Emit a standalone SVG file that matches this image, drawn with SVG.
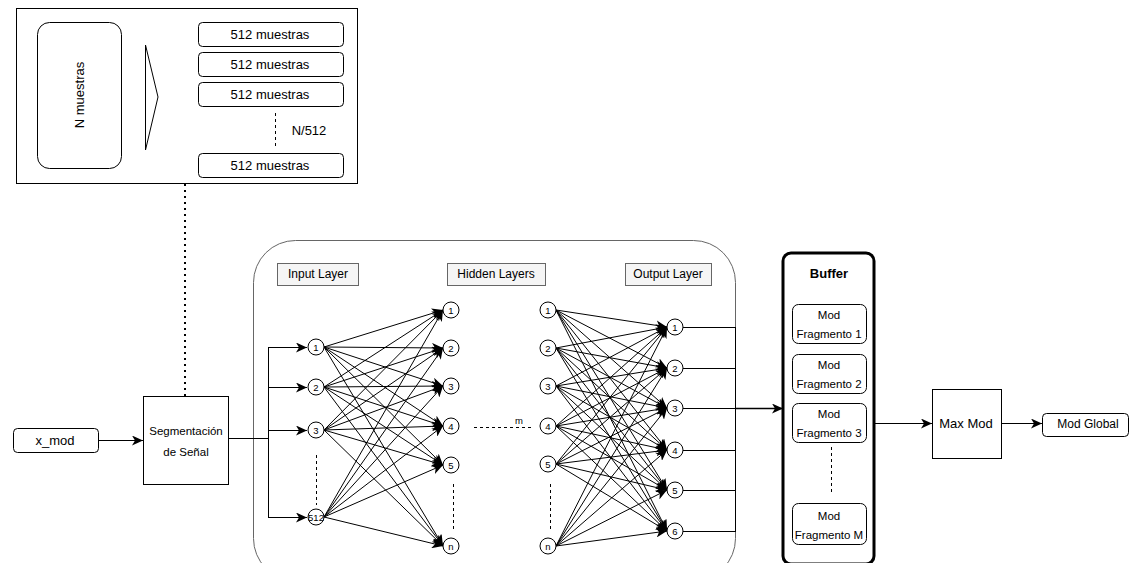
<svg xmlns="http://www.w3.org/2000/svg" width="1137" height="563" viewBox="0 0 1137 563">
<style>
text{font-family:"Liberation Sans",Arial,sans-serif;fill:#000;text-anchor:middle;dominant-baseline:central}
.b{fill:#fff;stroke:#000;stroke-width:1}
.n{fill:#fff;stroke:#000;stroke-width:1}
.nt{font-size:9.5px}
.e{stroke:#000;stroke-width:1;fill:none;marker-end:url(#a)}
.l{stroke:#000;stroke-width:1;fill:none}
.d{stroke:#000;stroke-width:1;fill:none;stroke-dasharray:3 3}
.lab{fill:#f5f5f5;stroke:#666;stroke-width:1}
.lt{font-size:12px}
.ft{font-size:11.5px}
</style>
<defs>
<marker id="a" markerUnits="userSpaceOnUse" markerWidth="12" markerHeight="10" refX="11" refY="5" orient="auto">
<path d="M0,0 L11,5 L0,10 L3,5 z" fill="#000"/>
</marker>
</defs>

<g id="segmentation-detail">
<rect x="16.5" y="8.5" width="341" height="175" class="b"/>
<rect x="37.5" y="22.5" width="84" height="146" rx="12" class="b"/>
<text transform="translate(79,95) rotate(-90)" font-size="13">N muestras</text>
<polygon points="145.5,45 158,97 145.5,150" class="b"/>
<rect x="198.5" y="22.5" width="145" height="24" rx="4" class="b"/>
<text x="270" y="34" font-size="13">512 muestras</text>
<rect x="198.5" y="52.5" width="145" height="24" rx="4" class="b"/>
<text x="270" y="64" font-size="13">512 muestras</text>
<rect x="198.5" y="82.5" width="145" height="24" rx="4" class="b"/>
<text x="270" y="94" font-size="13">512 muestras</text>
<rect x="198.5" y="153.5" width="145" height="24" rx="4" class="b"/>
<text x="270" y="165" font-size="13">512 muestras</text>
<line x1="275.5" y1="113" x2="275.5" y2="146" class="d"/>
<text x="309" y="130" font-size="13">N/512</text>
</g>

<g id="x_mod">
<rect x="13.5" y="428.5" width="85" height="24" rx="4" class="b"/>
<text x="55" y="440" font-size="13">x_mod</text>
</g>

<g id="segmentacion">
<rect x="143.5" y="396.5" width="85" height="88" class="b"/>
<text x="186" y="431" class="ft">Segmentación</text>
<text x="186" y="452" class="ft">de Señal</text>
</g>

<g id="nn-container">
<rect x="253.5" y="240.5" width="482" height="340" rx="42" fill="#fff" stroke="#666" stroke-width="1"/>
<rect x="277.5" y="263.5" width="81" height="22" class="lab"/>
<text x="318" y="274" class="lt">Input Layer</text>
<rect x="447.5" y="263.5" width="98" height="22" class="lab"/>
<text x="496" y="274" class="lt">Hidden Layers</text>
<rect x="625.5" y="263.5" width="86" height="22" class="lab"/>
<text x="668" y="274" class="lt">Output Layer</text>
</g>

<g id="connectors">
<line x1="185" y1="184" x2="185" y2="396" stroke="#000" stroke-width="2" stroke-dasharray="2 4"/>
<line x1="98" y1="440.5" x2="143" y2="440.5" class="e"/>
<line x1="228" y1="438.5" x2="268" y2="438.5" class="l"/>
<line x1="268.5" y1="347" x2="268.5" y2="517" class="l"/>
<line x1="268" y1="347.5" x2="307" y2="347.5" class="e"/>
<line x1="268" y1="387.5" x2="307" y2="387.5" class="e"/>
<line x1="268" y1="430.5" x2="307" y2="430.5" class="e"/>
<line x1="268" y1="517.5" x2="307" y2="517.5" class="e"/>

<!-- input -> hidden -->
<line x1="324" y1="347" x2="443" y2="310" class="e"/>
<line x1="324" y1="347" x2="443" y2="348" class="e"/>
<line x1="324" y1="347" x2="443" y2="386" class="e"/>
<line x1="324" y1="347" x2="443" y2="426" class="e"/>
<line x1="324" y1="347" x2="443" y2="465" class="e"/>
<line x1="324" y1="347" x2="443" y2="546" class="e"/>
<line x1="324" y1="387" x2="443" y2="310" class="e"/>
<line x1="324" y1="387" x2="443" y2="348" class="e"/>
<line x1="324" y1="387" x2="443" y2="386" class="e"/>
<line x1="324" y1="387" x2="443" y2="426" class="e"/>
<line x1="324" y1="387" x2="443" y2="465" class="e"/>
<line x1="324" y1="387" x2="443" y2="546" class="e"/>
<line x1="324" y1="430" x2="443" y2="310" class="e"/>
<line x1="324" y1="430" x2="443" y2="348" class="e"/>
<line x1="324" y1="430" x2="443" y2="386" class="e"/>
<line x1="324" y1="430" x2="443" y2="426" class="e"/>
<line x1="324" y1="430" x2="443" y2="465" class="e"/>
<line x1="324" y1="430" x2="443" y2="546" class="e"/>
<line x1="324" y1="517" x2="443" y2="310" class="e"/>
<line x1="324" y1="517" x2="443" y2="348" class="e"/>
<line x1="324" y1="517" x2="443" y2="386" class="e"/>
<line x1="324" y1="517" x2="443" y2="426" class="e"/>
<line x1="324" y1="517" x2="443" y2="465" class="e"/>
<line x1="324" y1="517" x2="443" y2="546" class="e"/>

<!-- hidden -> output -->
<line x1="556" y1="310" x2="667" y2="327" class="e"/>
<line x1="556" y1="310" x2="667" y2="368" class="e"/>
<line x1="556" y1="310" x2="667" y2="408" class="e"/>
<line x1="556" y1="310" x2="667" y2="450" class="e"/>
<line x1="556" y1="310" x2="667" y2="490" class="e"/>
<line x1="556" y1="310" x2="667" y2="531" class="e"/>
<line x1="556" y1="348" x2="667" y2="327" class="e"/>
<line x1="556" y1="348" x2="667" y2="368" class="e"/>
<line x1="556" y1="348" x2="667" y2="408" class="e"/>
<line x1="556" y1="348" x2="667" y2="450" class="e"/>
<line x1="556" y1="348" x2="667" y2="490" class="e"/>
<line x1="556" y1="348" x2="667" y2="531" class="e"/>
<line x1="556" y1="386" x2="667" y2="327" class="e"/>
<line x1="556" y1="386" x2="667" y2="368" class="e"/>
<line x1="556" y1="386" x2="667" y2="408" class="e"/>
<line x1="556" y1="386" x2="667" y2="450" class="e"/>
<line x1="556" y1="386" x2="667" y2="490" class="e"/>
<line x1="556" y1="386" x2="667" y2="531" class="e"/>
<line x1="556" y1="426" x2="667" y2="327" class="e"/>
<line x1="556" y1="426" x2="667" y2="368" class="e"/>
<line x1="556" y1="426" x2="667" y2="408" class="e"/>
<line x1="556" y1="426" x2="667" y2="450" class="e"/>
<line x1="556" y1="426" x2="667" y2="490" class="e"/>
<line x1="556" y1="426" x2="667" y2="531" class="e"/>
<line x1="556" y1="464" x2="667" y2="327" class="e"/>
<line x1="556" y1="464" x2="667" y2="368" class="e"/>
<line x1="556" y1="464" x2="667" y2="408" class="e"/>
<line x1="556" y1="464" x2="667" y2="450" class="e"/>
<line x1="556" y1="464" x2="667" y2="490" class="e"/>
<line x1="556" y1="464" x2="667" y2="531" class="e"/>
<line x1="556" y1="546" x2="667" y2="327" class="e"/>
<line x1="556" y1="546" x2="667" y2="368" class="e"/>
<line x1="556" y1="546" x2="667" y2="408" class="e"/>
<line x1="556" y1="546" x2="667" y2="450" class="e"/>
<line x1="556" y1="546" x2="667" y2="490" class="e"/>
<line x1="556" y1="546" x2="667" y2="531" class="e"/>

<!-- output -> buffer -->
<line x1="683" y1="327.5" x2="735" y2="327.5" class="l"/>
<line x1="683" y1="368.5" x2="735" y2="368.5" class="l"/>
<line x1="683" y1="408.5" x2="735" y2="408.5" class="l"/>
<line x1="683" y1="450.5" x2="735" y2="450.5" class="l"/>
<line x1="683" y1="490.5" x2="735" y2="490.5" class="l"/>
<line x1="683" y1="531.5" x2="735" y2="531.5" class="l"/>
<line x1="735.5" y1="327" x2="735.5" y2="532" class="l"/>
<line x1="735" y1="408.5" x2="783" y2="408.5" stroke="#000" stroke-width="1.5" marker-end="url(#a)"/>

<line x1="874" y1="423.5" x2="932" y2="423.5" class="e"/>
<line x1="1001" y1="423.5" x2="1042" y2="423.5" class="e"/>

<!-- dashed continuation marks -->
<line x1="316.5" y1="455" x2="316.5" y2="505" class="d"/>
<line x1="453.5" y1="484" x2="453.5" y2="532" class="d"/>
<line x1="550.5" y1="484" x2="550.5" y2="532" class="d"/>
<line x1="474" y1="427.5" x2="532" y2="427.5" class="d"/>
</g>
<text x="519" y="420" font-size="9.5">m</text>

<g id="input-layer">
<circle cx="316" cy="347" r="8" class="n"/><text x="316" y="347" class="nt">1</text>
<circle cx="316" cy="387" r="8" class="n"/><text x="316" y="387" class="nt">2</text>
<circle cx="316" cy="430" r="8" class="n"/><text x="316" y="430" class="nt">3</text>
<circle cx="316" cy="517" r="8" class="n"/><text x="316" y="517" class="nt">512</text>
</g>

<g id="hidden-layer-1">
<circle cx="451" cy="310" r="8" class="n"/><text x="451" y="310" class="nt">1</text>
<circle cx="451" cy="348" r="8" class="n"/><text x="451" y="348" class="nt">2</text>
<circle cx="451" cy="386" r="8" class="n"/><text x="451" y="386" class="nt">3</text>
<circle cx="451" cy="426" r="8" class="n"/><text x="451" y="426" class="nt">4</text>
<circle cx="451" cy="465" r="8" class="n"/><text x="451" y="465" class="nt">5</text>
<circle cx="451" cy="546" r="8" class="n"/><text x="451" y="546" class="nt">n</text>
</g>

<g id="hidden-layer-2">
<circle cx="548" cy="310" r="8" class="n"/><text x="548" y="310" class="nt">1</text>
<circle cx="548" cy="348" r="8" class="n"/><text x="548" y="348" class="nt">2</text>
<circle cx="548" cy="386" r="8" class="n"/><text x="548" y="386" class="nt">3</text>
<circle cx="548" cy="426" r="8" class="n"/><text x="548" y="426" class="nt">4</text>
<circle cx="548" cy="464" r="8" class="n"/><text x="548" y="464" class="nt">5</text>
<circle cx="548" cy="546" r="8" class="n"/><text x="548" y="546" class="nt">n</text>
</g>

<g id="output-layer">
<circle cx="675" cy="327" r="8" class="n"/><text x="675" y="327" class="nt">1</text>
<circle cx="675" cy="368" r="8" class="n"/><text x="675" y="368" class="nt">2</text>
<circle cx="675" cy="408" r="8" class="n"/><text x="675" y="408" class="nt">3</text>
<circle cx="675" cy="450" r="8" class="n"/><text x="675" y="450" class="nt">4</text>
<circle cx="675" cy="490" r="8" class="n"/><text x="675" y="490" class="nt">5</text>
<circle cx="675" cy="531" r="8" class="n"/><text x="675" y="531" class="nt">6</text>
</g>

<g id="buffer">
<rect x="783" y="253" width="91" height="311" rx="8" fill="#fff" stroke="#000" stroke-width="3"/>
<text x="829" y="273" font-size="13" font-weight="bold">Buffer</text>
<rect x="792.5" y="304.5" width="74" height="39" rx="6" class="b"/>
<text x="829" y="315" class="ft">Mod</text>
<text x="829" y="334" class="ft">Fragmento 1</text>
<rect x="792.5" y="354.5" width="74" height="39" rx="6" class="b"/>
<text x="829" y="365" class="ft">Mod</text>
<text x="829" y="384" class="ft">Fragmento 2</text>
<rect x="792.5" y="403.5" width="74" height="39" rx="6" class="b"/>
<text x="829" y="414" class="ft">Mod</text>
<text x="829" y="433" class="ft">Fragmento 3</text>
<rect x="792.5" y="503.5" width="74" height="41" rx="6" class="b"/>
<text x="829" y="516" class="ft">Mod</text>
<text x="829" y="535" class="ft">Fragmento M</text>
<line x1="831.5" y1="447" x2="831.5" y2="495" class="d"/>
</g>

<g id="max-mod">
<rect x="932.5" y="389.5" width="69" height="69" class="b"/>
<text x="966" y="423" font-size="13">Max Mod</text>
</g>

<g id="mod-global">
<rect x="1042.5" y="413.5" width="86" height="23" rx="4" class="b"/>
<text x="1088" y="424" font-size="12">Mod Global</text>
</g>
</svg>
